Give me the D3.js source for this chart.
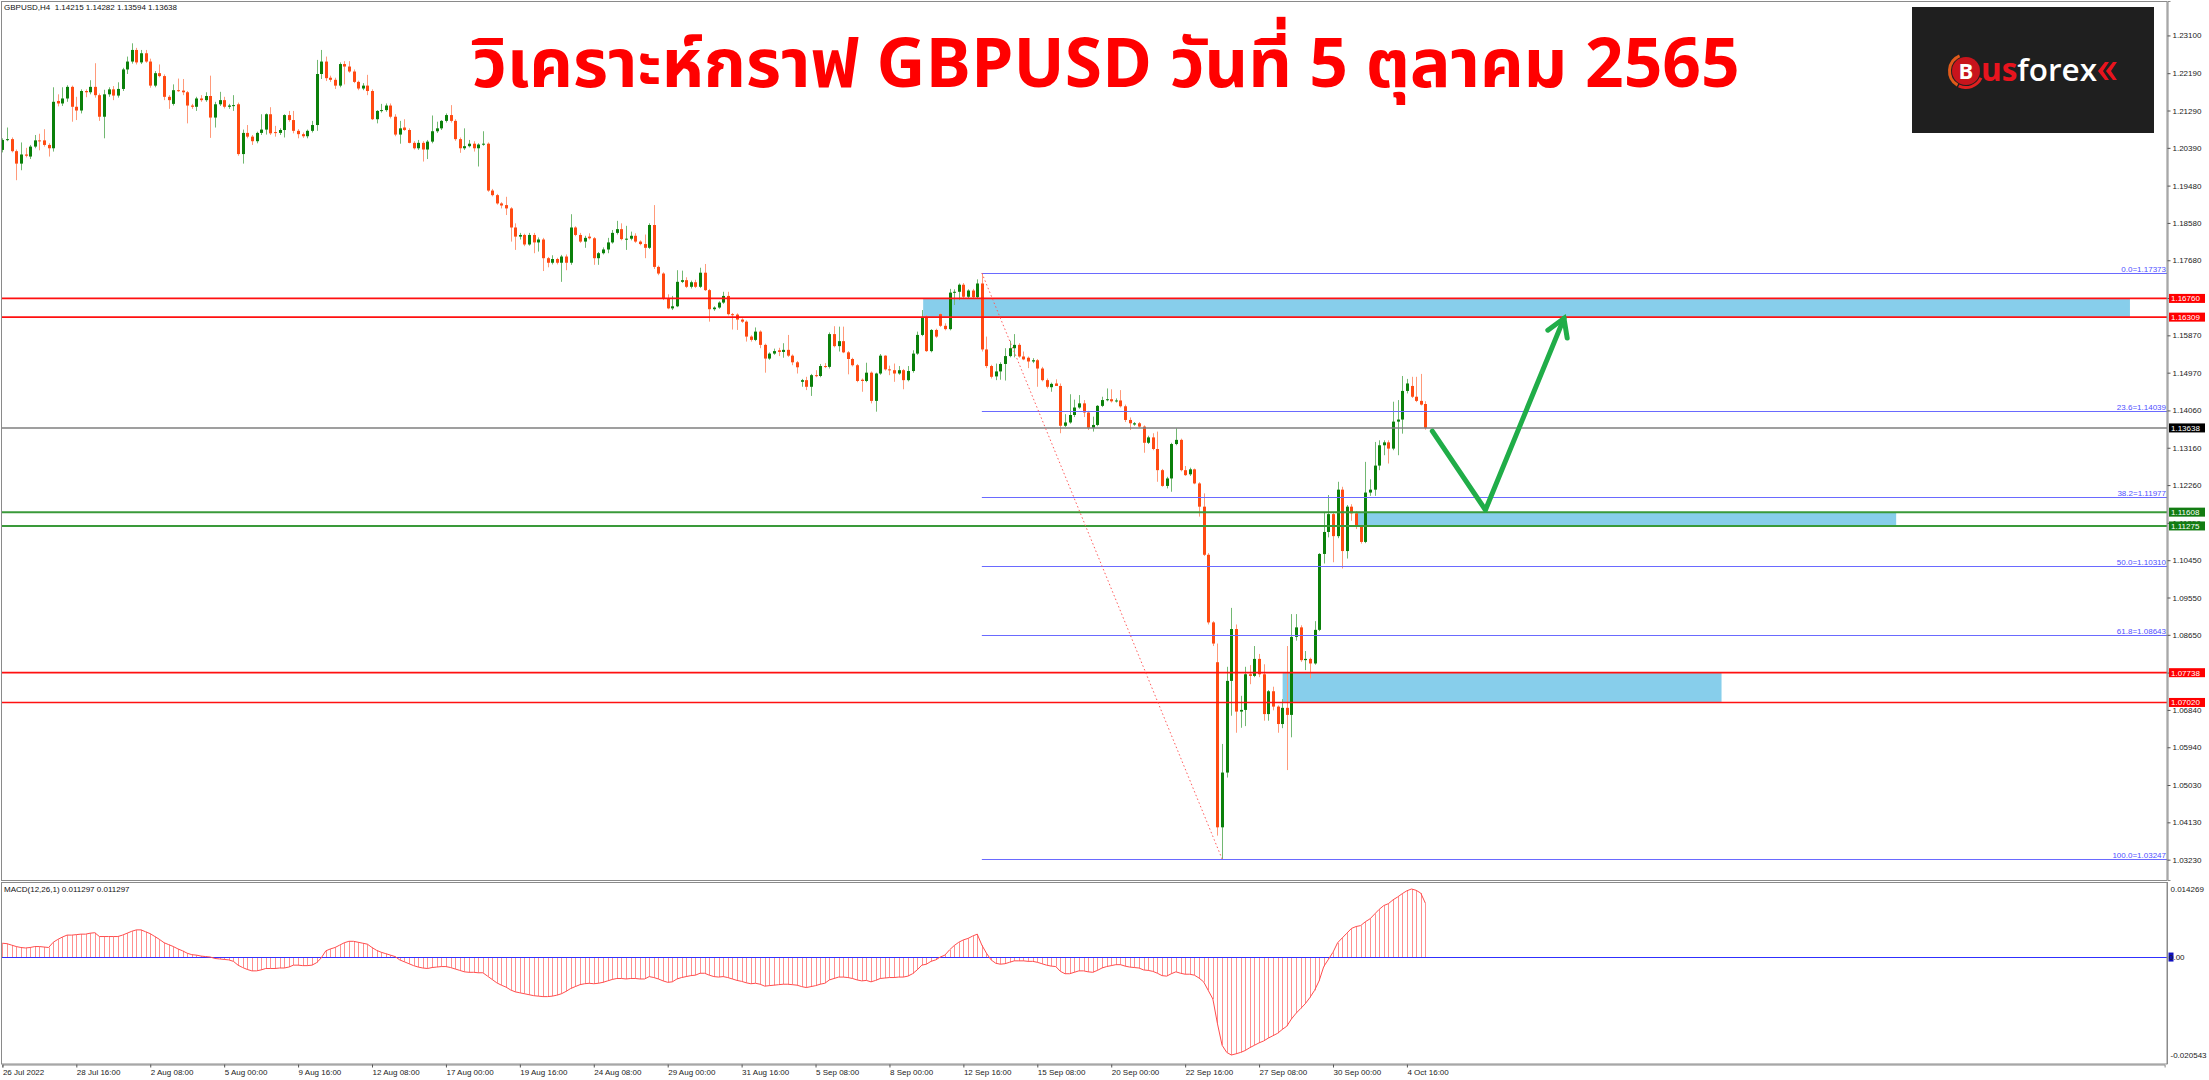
<!DOCTYPE html>
<html><head><meta charset="utf-8">
<script src="https://cdn.jsdelivr.net/npm/d3@7"></script>
<style>
html,body{margin:0;padding:0;background:#fff;overflow:hidden;}
svg{display:block;}
text{font-family:"Liberation Sans",Arial,sans-serif;}
</style></head><body>
<svg id="c" width="2209" height="1080"></svg>
<script>
// ---------------- DATA ----------------
const symbolName = "GBPUSD", timeframe = "H4";
const titleText = "วิเคราะห์กราฟ GBPUSD วันที่ 5 ตุลาคม 2565";

const opens = [
1.2034,1.2058,1.2060,1.2031,1.2001,1.2023,1.2018,1.2042,1.2057,1.2057,
1.2046,1.2038,1.2152,1.2146,1.2158,1.2186,1.2138,1.2129,1.2176,1.2173,
1.2186,1.2166,1.2114,1.2168,1.2180,1.2165,1.2181,1.2228,1.2247,1.2275,
1.2245,1.2267,1.2247,1.2189,1.2219,1.2212,1.2162,1.2145,1.2178,1.2177,
1.2173,1.2141,1.2138,1.2158,1.2154,1.2164,1.2112,1.2144,1.2154,1.2138,
1.2141,1.2144,1.2024,1.2075,1.2066,1.2055,1.2075,1.2083,1.2120,1.2077,
1.2075,1.2082,1.2118,1.2106,1.2080,1.2072,1.2067,1.2080,1.2094,1.2217,
1.2247,1.2208,1.2203,1.2189,1.2241,1.2235,1.2223,1.2198,1.2182,1.2189,
1.2176,1.2108,1.2128,1.2130,1.2141,1.2114,1.2071,1.2088,1.2082,1.2051,
1.2038,1.2051,1.2035,1.2054,1.2079,1.2086,1.2104,1.2118,1.2104,1.2060,
1.2038,1.2043,1.2049,1.2038,1.2047,1.2049,1.1936,1.1925,1.1905,1.1901,
1.1893,1.1847,1.1825,1.1829,1.1806,1.1829,1.1811,1.1818,1.1773,1.1762,
1.1771,1.1762,1.1777,1.1762,1.1847,1.1829,1.1813,1.1825,1.1821,1.1773,
1.1785,1.1794,1.1811,1.1834,1.1843,1.1819,1.1820,1.1827,1.1813,1.1807,
1.1798,1.1853,1.1752,1.1736,1.1676,1.1652,1.1657,1.1716,1.1720,1.1704,
1.1715,1.1704,1.1738,1.1696,1.1650,1.1654,1.1666,1.1682,1.1638,1.1637,
1.1625,1.1620,1.1584,1.1576,1.1596,1.1564,1.1531,1.1543,1.1551,1.1547,
1.1552,1.1538,1.1522,1.1475,1.1479,1.1463,1.1491,1.1489,1.1513,1.1511,
1.1590,1.1561,1.1573,1.1546,1.1530,1.1515,1.1480,1.1477,1.1497,1.1429,
1.1495,1.1538,1.1505,1.1503,1.1495,1.1503,1.1479,1.1501,1.1543,1.1588,
1.1630,1.1549,1.1600,1.1638,1.1610,1.1602,1.1690,1.1692,1.1709,1.1680,
1.1695,1.1679,1.1712,1.1553,1.1513,1.1488,1.1500,1.1518,1.1537,1.1556,
1.1564,1.1536,1.1533,1.1524,1.1527,1.1507,1.1479,1.1462,1.1471,1.1465,
1.1369,1.1377,1.1395,1.1413,1.1423,1.1401,1.1364,1.1371,1.1417,1.1431,
1.1433,1.1428,1.1430,1.1416,1.1383,1.1372,1.1375,1.1367,1.1328,1.1341,
1.1313,1.1262,1.1224,1.1242,1.1325,1.1335,1.1262,1.1252,1.1264,1.1230,
1.1174,1.1058,1.0895,1.0799,1.0401,1.0533,1.0754,1.0879,1.0680,1.0684,
1.0770,1.0766,1.0807,1.0770,1.0674,1.0729,1.0692,1.0650,1.0689,1.0672,
1.0860,1.0883,1.0804,1.0807,1.0796,1.0877,1.1060,1.1113,1.1156,1.1103,
1.1215,1.1067,1.1174,1.1158,1.1125,1.1089,1.1208,1.1215,1.1273,1.1322,
1.1329,1.1314,1.1379,1.1384,1.1453,1.1465,1.1439,1.1429,1.14215];

const highs = [
1.2062,1.2088,1.2064,1.2035,1.2052,1.2039,1.2046,1.2070,1.2073,1.2084,
1.2050,1.2185,1.2168,1.2185,1.2190,1.2189,1.2162,1.2180,1.2180,1.2202,
1.2243,1.2170,1.2179,1.2185,1.2188,1.2197,1.2232,1.2259,1.2291,1.2280,
1.2275,1.2275,1.2254,1.2224,1.2240,1.2216,1.2166,1.2192,1.2206,1.2205,
1.2176,1.2145,1.2162,1.2166,1.2173,1.2213,1.2150,1.2174,1.2162,1.2145,
1.2166,1.2148,1.2083,1.2094,1.2070,1.2078,1.2120,1.2122,1.2137,1.2092,
1.2086,1.2120,1.2128,1.2128,1.2084,1.2076,1.2083,1.2104,1.2251,1.2275,
1.2259,1.2213,1.2208,1.2245,1.2248,1.2248,1.2228,1.2201,1.2195,1.2215,
1.2180,1.2130,1.2145,1.2146,1.2146,1.2120,1.2104,1.2108,1.2086,1.2055,
1.2058,1.2055,1.2058,1.2117,1.2102,1.2106,1.2122,1.2142,1.2108,1.2064,
1.2086,1.2058,1.2055,1.2050,1.2079,1.2052,1.1940,1.1928,1.1908,1.1921,
1.1896,1.1857,1.1834,1.1832,1.1834,1.1834,1.1823,1.1822,1.1776,1.1780,
1.1774,1.1781,1.1782,1.1879,1.1850,1.1834,1.1827,1.1833,1.1824,1.1788,
1.1799,1.1822,1.1841,1.1863,1.1857,1.1851,1.1837,1.1833,1.1816,1.1830,
1.1857,1.1901,1.1755,1.1739,1.1686,1.1682,1.1744,1.1743,1.1727,1.1719,
1.1721,1.1750,1.1759,1.1699,1.1657,1.1669,1.1692,1.1692,1.1641,1.1640,
1.1628,1.1623,1.1587,1.1606,1.1599,1.1567,1.1546,1.1555,1.1557,1.1568,
1.1588,1.1541,1.1525,1.1482,1.1487,1.1494,1.1503,1.1518,1.1520,1.1594,
1.1609,1.1608,1.1608,1.1549,1.1533,1.1518,1.1483,1.1521,1.1500,1.1497,
1.1542,1.1539,1.1514,1.1519,1.1513,1.1506,1.1513,1.1551,1.1596,1.1648,
1.1636,1.1602,1.1603,1.1640,1.1616,1.1699,1.1698,1.1712,1.1713,1.1698,
1.1699,1.1722,1.17373,1.1584,1.1516,1.1519,1.1522,1.1556,1.1574,1.1590,
1.1568,1.1548,1.1536,1.1532,1.1530,1.1511,1.1483,1.1473,1.1481,1.1471,
1.1397,1.1445,1.1432,1.1443,1.1431,1.1405,1.1391,1.1419,1.1439,1.1459,
1.1457,1.1435,1.1455,1.1420,1.1389,1.1378,1.1378,1.1370,1.1345,1.1351,
1.1355,1.1265,1.1246,1.1328,1.1363,1.1338,1.1272,1.1268,1.1266,1.1233,
1.1206,1.1062,1.0898,1.0844,1.0602,1.0788,1.0930,1.0890,1.0718,1.0788,
1.0792,1.0838,1.0819,1.0794,1.0732,1.0740,1.0695,1.0710,1.0838,1.0915,
1.0915,1.0888,1.0826,1.0810,1.0898,1.1062,1.1160,1.1202,1.1160,1.1234,
1.1222,1.1178,1.1180,1.1163,1.1130,1.1282,1.1240,1.1330,1.1334,1.1334,
1.1334,1.1427,1.1431,1.1489,1.1482,1.1487,1.1487,1.1494,1.14282];

const lows = [
1.2028,1.2055,1.2028,1.1961,1.1985,1.2016,1.2012,1.2038,1.2033,1.2042,
1.2018,1.2030,1.2139,1.2140,1.2150,1.2102,1.2106,1.2122,1.2161,1.2168,
1.2160,1.2104,1.2062,1.2162,1.2154,1.2160,1.2176,1.2217,1.2242,1.2240,
1.2241,1.2244,1.2184,1.2185,1.2209,1.2154,1.2133,1.2141,1.2174,1.2166,
1.2098,1.2133,1.2128,1.2150,1.2150,1.2063,1.2088,1.2140,1.2134,1.2133,
1.2128,1.2020,1.2001,1.2062,1.2046,1.2050,1.2070,1.2071,1.2070,1.2066,
1.2070,1.2064,1.2102,1.2074,1.2062,1.2063,1.2062,1.2076,1.2080,1.2205,
1.2200,1.2198,1.2181,1.2185,1.2192,1.2220,1.2195,1.2178,1.2178,1.2166,
1.2106,1.2098,1.2124,1.2126,1.2110,1.2067,1.2049,1.2080,1.2050,1.2035,
1.2034,1.2006,1.2012,1.2050,1.2075,1.2082,1.2100,1.2100,1.2056,1.2027,
1.2034,1.2040,1.2030,1.1994,1.2044,1.1933,1.1922,1.1902,1.1893,1.1877,
1.1813,1.1793,1.1818,1.1802,1.1803,1.1785,1.1789,1.1742,1.1751,1.1758,
1.1758,1.1716,1.1744,1.1757,1.1826,1.1810,1.1798,1.1818,1.1757,1.1757,
1.1782,1.1785,1.1808,1.1830,1.1816,1.1793,1.1816,1.1810,1.1804,1.1773,
1.1795,1.1747,1.1732,1.1672,1.1650,1.1648,1.1655,1.1713,1.1701,1.1700,
1.1701,1.1701,1.1694,1.1620,1.1646,1.1651,1.1663,1.1635,1.1601,1.1600,
1.1617,1.1572,1.1572,1.1573,1.1556,1.1497,1.1528,1.1540,1.1537,1.1533,
1.1535,1.1515,1.1495,1.1463,1.1455,1.1441,1.1486,1.1486,1.1508,1.1507,
1.1558,1.1548,1.1544,1.1493,1.1512,1.1474,1.1451,1.1474,1.1423,1.1403,
1.1492,1.1502,1.1491,1.1475,1.1492,1.1457,1.1476,1.1497,1.1540,1.1585,
1.1547,1.1546,1.1581,1.1607,1.1599,1.1599,1.1660,1.1672,1.1677,1.1676,
1.1675,1.1676,1.1548,1.1508,1.1483,1.1479,1.1480,1.1478,1.1534,1.1534,
1.1533,1.1527,1.1508,1.1520,1.1463,1.1476,1.1459,1.1451,1.1465,1.1351,
1.1366,1.1374,1.1390,1.1410,1.1390,1.1359,1.1355,1.1368,1.1414,1.1428,
1.1425,1.1425,1.1413,1.1378,1.1359,1.1369,1.1364,1.1304,1.1325,1.1310,
1.1234,1.1222,1.1218,1.1210,1.1322,1.1259,1.1248,1.1248,1.1228,1.1150,
1.1055,1.0890,1.0838,1.0381,1.03247,1.0521,1.0670,1.0629,1.0641,1.0645,
1.0746,1.0763,1.0763,1.0658,1.0658,1.0683,1.0629,1.0640,1.0539,1.0618,
1.0851,1.0800,1.0780,1.0760,1.0793,1.0874,1.1037,1.1100,1.1040,1.1098,
1.1025,1.1049,1.1140,1.1120,1.1085,1.1086,1.1200,1.1200,1.1262,1.1298,
1.1278,1.1310,1.1298,1.1350,1.1447,1.1436,1.1426,1.1418,1.13594];

const closes = [
1.2058,1.2060,1.2031,1.2001,1.2023,1.2020,1.2042,1.2057,1.2055,1.2046,
1.2038,1.2150,1.2146,1.2158,1.2186,1.2138,1.2129,1.2176,1.2173,1.2186,
1.2166,1.2114,1.2168,1.2180,1.2165,1.2181,1.2228,1.2247,1.2275,1.2245,
1.2267,1.2247,1.2189,1.2219,1.2212,1.2162,1.2154,1.2178,1.2177,1.2173,
1.2141,1.2138,1.2158,1.2154,1.2164,1.2112,1.2144,1.2154,1.2138,1.2141,
1.2142,1.2024,1.2075,1.2066,1.2055,1.2075,1.2083,1.2120,1.2074,1.2075,
1.2082,1.2118,1.2106,1.2080,1.2072,1.2067,1.2080,1.2094,1.2217,1.2247,
1.2207,1.2203,1.2189,1.2241,1.2235,1.2223,1.2198,1.2182,1.2189,1.2176,
1.2108,1.2128,1.2130,1.2141,1.2114,1.2071,1.2086,1.2082,1.2051,1.2038,
1.2051,1.2035,1.2054,1.2079,1.2086,1.2104,1.2118,1.2104,1.2060,1.2038,
1.2043,1.2049,1.2038,1.2047,1.2049,1.1936,1.1925,1.1905,1.1900,1.1893,
1.1847,1.1825,1.1829,1.1806,1.1829,1.1811,1.1818,1.1773,1.1762,1.1771,
1.1762,1.1777,1.1762,1.1847,1.1829,1.1813,1.1822,1.1821,1.1773,1.1785,
1.1794,1.1811,1.1834,1.1843,1.1819,1.1820,1.1827,1.1813,1.1807,1.1798,
1.1853,1.1752,1.1736,1.1676,1.1652,1.1657,1.1716,1.1720,1.1704,1.1715,
1.1704,1.1738,1.1696,1.1650,1.1654,1.1666,1.1682,1.1638,1.1637,1.1625,
1.1620,1.1584,1.1576,1.1596,1.1564,1.1531,1.1543,1.1549,1.1547,1.1552,
1.1538,1.1522,1.1510,1.1479,1.1463,1.1491,1.1489,1.1513,1.1511,1.1590,
1.1561,1.1573,1.1546,1.1530,1.1515,1.1477,1.1477,1.1497,1.1429,1.1495,
1.1538,1.1505,1.1503,1.1495,1.1503,1.1479,1.1501,1.1543,1.1588,1.1630,
1.1549,1.1600,1.1584,1.1610,1.1602,1.1690,1.1692,1.1709,1.1680,1.1695,
1.1679,1.1712,1.1553,1.1513,1.1487,1.1500,1.1518,1.1537,1.1556,1.1564,
1.1536,1.1529,1.1524,1.1527,1.1507,1.1479,1.1463,1.1470,1.1465,1.1369,
1.1377,1.1395,1.1413,1.1423,1.1401,1.1364,1.1371,1.1417,1.1431,1.1433,
1.1428,1.1430,1.1416,1.1383,1.1375,1.1375,1.1367,1.1328,1.1341,1.1313,
1.1262,1.1224,1.1242,1.1325,1.1335,1.1262,1.1250,1.1264,1.1230,1.1174,
1.1058,1.0895,1.0844,1.0401,1.0533,1.0754,1.0879,1.0680,1.0684,1.0770,
1.0766,1.0807,1.0770,1.0674,1.0729,1.0692,1.0650,1.0689,1.0672,1.0860,
1.0883,1.0804,1.0807,1.0796,1.0877,1.1060,1.1113,1.1156,1.1103,1.1215,
1.1067,1.1174,1.1158,1.1125,1.1089,1.1208,1.1215,1.1273,1.1322,1.1329,
1.1314,1.1379,1.1384,1.1453,1.1471,1.1439,1.1429,1.1420,1.13638];

const macdValues = [
0.0029,0.0028,0.0025,0.0022,0.0020,0.0019,0.0020,0.0022,0.0022,0.0021,
0.0020,0.0031,0.0037,0.0042,0.0046,0.0046,0.0047,0.0048,0.0048,0.0050,
0.0051,0.0043,0.0043,0.0043,0.0043,0.0043,0.0046,0.0050,0.0054,0.0057,
0.0057,0.0053,0.0049,0.0043,0.0037,0.0030,0.0026,0.0022,0.0017,0.0013,
0.0008,0.0005,0.0004,0.0002,0.0001,0.0000,-0.0003,-0.0004,-0.0005,-0.0006,
-0.0009,-0.0017,-0.0022,-0.0026,-0.0029,-0.0029,-0.0027,-0.0024,-0.0024,-0.0024,
-0.0023,-0.0023,-0.0021,-0.0017,-0.0017,-0.0018,-0.0018,-0.0017,-0.0012,-0.0002,
0.0013,0.0017,0.0020,0.0025,0.0030,0.0033,0.0033,0.0031,0.0029,0.0027,
0.0020,0.0014,0.0010,0.0007,0.0004,0.0001,-0.0006,-0.0010,-0.0014,-0.0018,
-0.0021,-0.0023,-0.0024,-0.0022,-0.0021,-0.0020,-0.0020,-0.0022,-0.0025,-0.0028,
-0.0031,-0.0032,-0.0032,-0.0033,-0.0033,-0.0040,-0.0047,-0.0054,-0.0059,-0.0063,
-0.0069,-0.0073,-0.0075,-0.0077,-0.0079,-0.0081,-0.0082,-0.0083,-0.0083,-0.0082,
-0.0080,-0.0077,-0.0072,-0.0066,-0.0062,-0.0058,-0.0056,-0.0055,-0.0056,-0.0055,
-0.0053,-0.0050,-0.0047,-0.0045,-0.0045,-0.0046,-0.0045,-0.0045,-0.0046,-0.0046,
-0.0041,-0.0043,-0.0046,-0.0050,-0.0053,-0.0052,-0.0046,-0.0043,-0.0041,-0.0039,
-0.0038,-0.0034,-0.0034,-0.0038,-0.0041,-0.0042,-0.0041,-0.0043,-0.0046,-0.0049,
-0.0051,-0.0054,-0.0056,-0.0055,-0.0057,-0.0061,-0.0060,-0.0059,-0.0058,-0.0057,
-0.0057,-0.0058,-0.0059,-0.0062,-0.0064,-0.0062,-0.0060,-0.0057,-0.0055,-0.0048,
-0.0045,-0.0042,-0.0042,-0.0043,-0.0045,-0.0048,-0.0050,-0.0049,-0.0052,-0.0049,
-0.0045,-0.0044,-0.0043,-0.0043,-0.0042,-0.0042,-0.0040,-0.0035,-0.0027,-0.0017,
-0.0015,-0.0009,-0.0006,0.0000,0.0004,0.0015,0.0024,0.0031,0.0036,0.0039,
0.0044,0.0048,0.0025,0.0008,-0.0006,-0.0013,-0.0015,-0.0014,-0.0011,-0.0008,
-0.0008,-0.0008,-0.0009,-0.0009,-0.0011,-0.0014,-0.0017,-0.0019,-0.0020,-0.0030,
-0.0035,-0.0035,-0.0032,-0.0029,-0.0029,-0.0031,-0.0032,-0.0028,-0.0023,-0.0020,
-0.0018,-0.0016,-0.0016,-0.0019,-0.0021,-0.0022,-0.0023,-0.0027,-0.0028,-0.0030,
-0.0034,-0.0039,-0.0040,-0.0035,-0.0031,-0.0034,-0.0036,-0.0036,-0.0038,-0.0044,
-0.0052,-0.0070,-0.0088,-0.0140,-0.0185,-0.0200,-0.020543,-0.0203,-0.0200,-0.0196,
-0.0190,-0.0185,-0.0180,-0.0176,-0.0170,-0.0165,-0.0160,-0.0152,-0.0145,-0.0130,
-0.0118,-0.0108,-0.0098,-0.0085,-0.0070,-0.0050,-0.0020,-0.0005,0.0010,0.0030,
0.0040,0.0050,0.0060,0.0064,0.0066,0.0074,0.0080,0.0090,0.0100,0.0108,
0.0112,0.0120,0.0126,0.0133,0.0139,0.014269,0.0140,0.0134,0.011297];

const priceTicks = [1.23100,1.22190,1.21290,1.20390,1.19480,1.18580,1.17680,1.16770,1.15870,1.14970,
  1.14060,1.13160,1.12260,1.11350,1.10450,1.09550,1.08650,1.07740,1.06840,1.05940,1.05030,1.04130,1.03230];
const timeTickIndex = [0,16,32,48,64,80,96,112,128,144,160,176,192,208,224,240,256,272,288,304];
const timeLabels = ["26 Jul 2022","28 Jul 16:00","2 Aug 08:00","5 Aug 00:00","9 Aug 16:00","12 Aug 08:00",
  "17 Aug 00:00","19 Aug 16:00","24 Aug 08:00","29 Aug 00:00","31 Aug 16:00","5 Sep 08:00","8 Sep 00:00",
  "12 Sep 16:00","15 Sep 08:00","20 Sep 00:00","22 Sep 16:00","27 Sep 08:00","30 Sep 00:00","4 Oct 16:00"];

const levelPrices = [1.16760, 1.16309, 1.11608, 1.11275, 1.07738, 1.07020];
const levelKinds  = ["red","red","green","green","red","red"];
const bidPrice = 1.13638;

const fibRatios = ["0.0","23.6","38.2","50.0","61.8","100.0"];
const fibPrices = [1.17373, 1.14039, 1.11977, 1.10310, 1.08643, 1.03247];
const fibFromIndex = 212, fibToIndex = 264;

const zoneFrom = [199.3, 293.2, 277.1];
const zoneTo   = [460.5, 409.9, 372.1];
const zoneHigh = [1.16760, 1.11608, 1.07738];
const zoneLow  = [1.16309, 1.11275, 1.07020];

const arrowIndex = [309.5, 321, 338];
const arrowPrice = [1.1356, 1.1166, 1.1628];

const macdParams = "MACD(12,26,1)";
const macdMax = 0.014269, macdMin = -0.020543;

// ---------------- DRAW ----------------
const svg = d3.select('#c');
svg.append('rect').attr('width',2209).attr('height',1080).attr('fill','#fff');

const axisX = 2167;
const x = d3.scaleLinear().domain([0,468]).range([2.4,2164.6]);
const y = d3.scaleLinear().domain([1.0274,1.2393]).range([880,1]);
const ym = d3.scaleLinear().domain([macdMin, macdMax]).range([1055,889]);
const n = closes.length;
const idx = d3.range(n);

const defs = svg.append('defs');
defs.append('clipPath').attr('id','pc').append('rect').attr('x',2).attr('y',2).attr('width',axisX-2).attr('height',877);
defs.append('clipPath').attr('id','mc').append('rect').attr('x',2).attr('y',884).attr('width',axisX-2).attr('height',179);

const price = svg.append('g').attr('clip-path','url(#pc)');

// zones
price.selectAll('rect.zone').data(zoneFrom).join('rect').attr('class','zone')
  .attr('x',(d)=>x(d)).attr('width',(d,i)=>x(zoneTo[i])-x(d))
  .attr('y',(d,i)=>y(zoneHigh[i])).attr('height',(d,i)=>y(zoneLow[i])-y(zoneHigh[i]))
  .attr('fill','#87ceeb');

// candles
const bullBody='#0a800a', bearBody='#ff4a12', bullWick='#72b872', bearWick='#ff9a7a';
price.selectAll('line.wick').data(idx).join('line').attr('class','wick')
  .attr('x1',i=>Math.round(x(i))+0.5).attr('x2',i=>Math.round(x(i))+0.5)
  .attr('y1',i=>y(highs[i])).attr('y2',i=>y(lows[i]))
  .attr('stroke',i=>closes[i]>=opens[i]?bullWick:bearWick).attr('stroke-width',1);
price.selectAll('rect.body').data(idx).join('rect').attr('class','body')
  .attr('x',i=>Math.round(x(i))-1).attr('width',3)
  .attr('y',i=>y(Math.max(opens[i],closes[i])))
  .attr('height',i=>Math.max(1,Math.abs(y(opens[i])-y(closes[i]))))
  .attr('fill',i=>closes[i]>=opens[i]?bullBody:bearBody);

// horizontal levels
price.selectAll('line.lvl').data(levelPrices).join('line').attr('class','lvl')
  .attr('x1',0).attr('x2',axisX).attr('y1',d=>y(d)).attr('y2',d=>y(d))
  .attr('stroke',(d,i)=>levelKinds[i]==='red'?'#ff1010':'#3a9a3a')
  .attr('stroke-width',(d,i)=>levelKinds[i]==='red'?1.6:2);
price.append('line').attr('x1',0).attr('x2',axisX).attr('y1',y(bidPrice)).attr('y2',y(bidPrice))
  .attr('stroke','#7f7f7f').attr('stroke-width',1.5);

// fibonacci
price.selectAll('line.fib').data(fibPrices).join('line').attr('class','fib')
  .attr('x1',x(fibFromIndex)).attr('x2',axisX).attr('y1',d=>Math.round(y(d))+0.5).attr('y2',d=>Math.round(y(d))+0.5)
  .attr('stroke','#6a6aff').attr('stroke-width',1);
price.selectAll('text.fib').data(fibPrices).join('text').attr('class','fib')
  .attr('x',axisX-1).attr('y',d=>Math.round(y(d))-1.5).attr('text-anchor','end')
  .attr('font-size','8px').attr('fill','#5050ff')
  .text((d,i)=>fibRatios[i]+'='+d.toFixed(5));
price.append('line')
  .attr('x1',x(fibFromIndex)).attr('y1',y(fibPrices[0]))
  .attr('x2',x(fibToIndex)).attr('y2',y(fibPrices[5]))
  .attr('stroke','#ff5a5a').attr('stroke-width',1).attr('stroke-dasharray','1.5,2.5');

// arrow
const apts = arrowIndex.map((d,k)=>[x(d), y(arrowPrice[k])]);
price.append('path').attr('d',d3.line()(apts)).attr('fill','none')
  .attr('stroke','#20ad48').attr('stroke-width',5).attr('stroke-linejoin','round').attr('stroke-linecap','round');
{
  const [x1,y1]=apts[1],[x2,y2]=apts[2];
  const ang=Math.atan2(y2-y1,x2-x1), L=20, a=0.55;
  const b1=[x2-L*Math.cos(ang-a), y2-L*Math.sin(ang-a)];
  const b2=[x2-L*Math.cos(ang+a), y2-L*Math.sin(ang+a)];
  price.append('path').attr('d',d3.line()([b1,[x2,y2],b2])).attr('fill','none')
    .attr('stroke','#20ad48').attr('stroke-width',5).attr('stroke-linejoin','miter').attr('stroke-linecap','round');
}

// MACD panel
const mg = svg.append('g').attr('clip-path','url(#mc)');
mg.selectAll('line.h').data(idx).join('line').attr('class','h')
  .attr('x1',i=>Math.round(x(i))+0.5).attr('x2',i=>Math.round(x(i))+0.5)
  .attr('y1',ym(0)).attr('y2',i=>ym(macdValues[i]))
  .attr('stroke','#ff9090').attr('stroke-width',1);
mg.append('line').attr('x1',0).attr('x2',axisX).attr('y1',Math.round(ym(0))+0.5).attr('y2',Math.round(ym(0))+0.5)
  .attr('stroke','#3030ff').attr('stroke-width',1);
mg.append('path').datum(idx).attr('d',d3.line().x(i=>x(i)).y(i=>ym(macdValues[i])))
  .attr('fill','none').attr('stroke','#ff4d4d').attr('stroke-width',1);

// frames
const frame = svg.append('g').attr('fill','none').attr('stroke','#8a8a8a').attr('stroke-width',1);
frame.append('rect').attr('x',1.5).attr('y',1.5).attr('width',axisX-1.5).attr('height',879);
frame.append('rect').attr('x',1.5).attr('y',882.5).attr('width',axisX-1.5).attr('height',181.5);

// price axis
const pAxis = svg.append('g').attr('transform',`translate(${axisX+0.5},0)`)
  .call(d3.axisRight(y).tickValues(priceTicks).tickSize(3).tickPadding(2).tickFormat(d3.format('.5f')));
pAxis.select('.domain').attr('stroke','#8a8a8a');
pAxis.selectAll('line').attr('stroke','#555');
pAxis.selectAll('text').attr('font-size','8px').attr('fill','#222').attr('font-family','Liberation Sans, Arial, sans-serif');

// MACD axis labels
const mAxis = svg.append('g').attr('transform',`translate(${axisX+0.5},0)`);
mAxis.append('line').attr('x1',0).attr('x2',0).attr('y1',882).attr('y2',1064).attr('stroke','#8a8a8a');
mAxis.append('text').attr('x',3).attr('y',ym(macdMax)+3).attr('font-size','8px').attr('fill','#222').text(macdMax.toFixed(6));
mAxis.append('text').attr('x',3).attr('y',ym(macdMin)+3).attr('font-size','8px').attr('fill','#222').text(macdMin.toFixed(6));
mAxis.append('rect').attr('x',1).attr('y',ym(0)-4.5).attr('width',5).attr('height',9).attr('fill','#1010c0');
mAxis.append('text').attr('x',1.5).attr('y',ym(0)+3).attr('font-size','8px').attr('fill','#222').text((0).toFixed(2));

// time axis
const tAxis = svg.append('g').attr('transform','translate(0,1064.5)')
  .call(d3.axisBottom(x).tickValues(timeTickIndex).tickSize(3).tickPadding(2).tickFormat((d,i)=>timeLabels[i]));
tAxis.select('.domain').attr('stroke','#8a8a8a');
tAxis.selectAll('line').attr('stroke','#555');
tAxis.selectAll('text').attr('font-size','8px').attr('fill','#222').attr('text-anchor','start').attr('dx','0')
  .attr('font-family','Liberation Sans, Arial, sans-serif');

// right axis boxes
const boxes = levelPrices.map((p,i)=>({p, c: levelKinds[i]==='red'?'#ff0000':'#127c12'}));
boxes.push({p:bidPrice, c:'#000000'});
const bx = svg.append('g');
bx.selectAll('rect').data(boxes).join('rect').attr('x',axisX+2).attr('y',d=>y(d.p)-4.5).attr('width',36).attr('height',9).attr('fill',d=>d.c);
bx.selectAll('text').data(boxes).join('text').attr('x',axisX+4).attr('y',d=>y(d.p)+3).attr('font-size','8px').attr('fill','#fff').text(d=>d.p.toFixed(5));

// header texts
const last = n-1;
svg.append('text').attr('x',4).attr('y',10).attr('font-size','8px').attr('fill','#111')
  .attr('xml:space','preserve')
  .text(`${symbolName},${timeframe}  ${opens[last].toFixed(5)} ${highs[last].toFixed(5)} ${lows[last].toFixed(5)} ${closes[last].toFixed(5)}`);
svg.append('text').attr('x',4).attr('y',892).attr('font-size','8px').attr('fill','#111')
  .text(`${macdParams} ${macdValues[last].toFixed(6)} ${macdValues[last].toFixed(6)}`);

// title
const title = svg.append('text').attr('x',472).attr('y',87).attr('fill','#ff0000')
  .attr('font-weight','bold').attr('font-size','72px')
  .style('font-family','"Noto Sans Thai","Noto Sans","Noto Sans CJK SC",sans-serif')
  .text(titleText);
const tw = title.node().getComputedTextLength();
title.attr('font-size', (72*1268/tw).toFixed(2)+'px');

// logo
const logo = svg.append('g');
logo.append('rect').attr('x',1912).attr('y',7).attr('width',242).attr('height',126).attr('fill','#1f1f1f');
logo.append('circle').attr('cx',1966).attr('cy',71).attr('r',14).attr('fill','#c8141c');
logo.append('path').attr('d',d3.arc()({innerRadius:15,outerRadius:18,startAngle:-2.6,endAngle:-0.4})).attr('transform','translate(1966,71)').attr('fill','#e05a1a');
logo.append('path').attr('d',d3.arc()({innerRadius:15,outerRadius:18,startAngle:2.0,endAngle:3.6})).attr('transform','translate(1966,71)').attr('fill','#e02020');
logo.append('text').attr('x',1966).attr('y',79).attr('text-anchor','middle').attr('font-size','22px').attr('font-weight','bold')
  .attr('fill','#fff').style('font-family','"Open Sans",sans-serif').text('B');
const lt = logo.append('text').attr('x',1981).attr('y',81).attr('font-size','33px').style('font-family','"Open Sans",sans-serif');
lt.append('tspan').attr('fill','#e8141e').attr('font-weight','bold').text('us');
lt.append('tspan').attr('fill','#ffffff').attr('font-weight','600').text('forex');
const lw = lt.node().getComputedTextLength();
lt.attr('font-size',(33*116/lw).toFixed(2)+'px');
logo.append('path').attr('d','M2105,62 L2098,71 L2105,80 L2109,80 L2103,71 L2109,62 Z M2113,62 L2106,71 L2113,80 L2117,80 L2111,71 L2117,62 Z').attr('fill','#e8141e');
</script>
</body></html>
